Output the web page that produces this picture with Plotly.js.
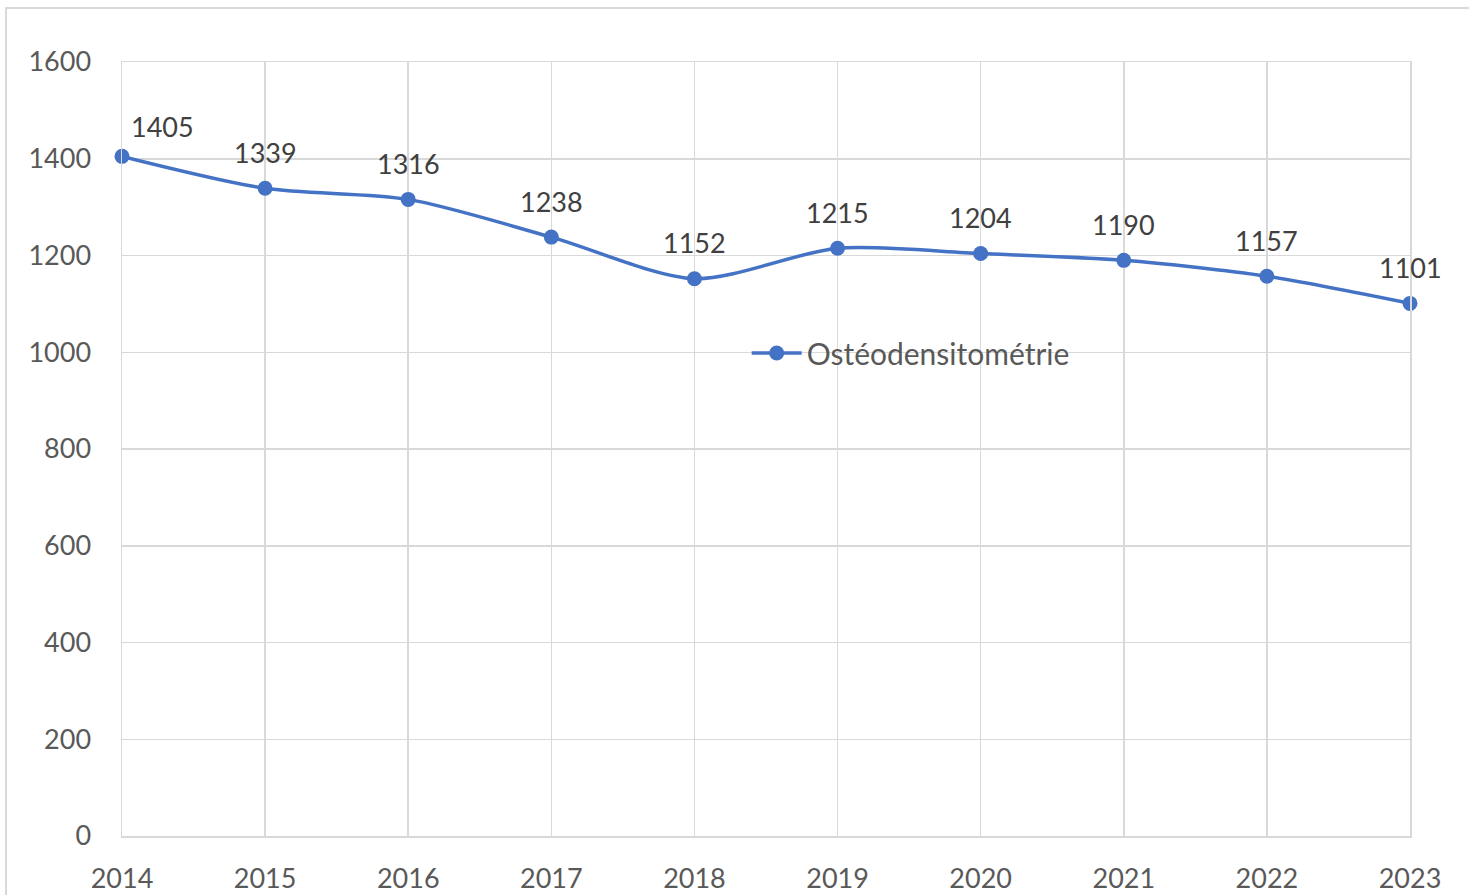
<!DOCTYPE html>
<html>
<head>
<meta charset="utf-8">
<script src="https://cdn.plot.ly/plotly-3.0.1.min.js"></script>
<style>
html,body{margin:0;padding:0;background:#fff;overflow:hidden;}
#frame{position:absolute;left:5px;top:7px;width:1500px;height:950px;border-top:2px solid #d9d9d9;border-left:2px solid #d9d9d9;}
#chart{position:absolute;left:0;top:0;width:1469px;height:895px;}
</style>
</head>
<body>
<div id="frame"></div>
<div id="chart"></div>
<script>
const years = [2014, 2015, 2016, 2017, 2018, 2019, 2020, 2021, 2022, 2023];
const values = [1405, 1339, 1316, 1238, 1152, 1215, 1204, 1190, 1157, 1101];
const seriesName = 'Ostéodensitométrie';
const yTicks = [0, 200, 400, 600, 800, 1000, 1200, 1400, 1600];

const FONT = 'Lato, "Open Sans", sans-serif';
const TXT = '#595959';
const BLUE = '#4472C4';

const trace = {
  x: years, y: values, name: seriesName, type: 'scatter', mode: 'lines+markers',
  line: {color: BLUE, width: 3.5, shape: 'spline', smoothing: 0.8},
  marker: {color: BLUE, size: 15},
  cliponaxis: false
};

const annotations = years.map((yr, i) => ({
  x: yr, y: values[i], xref: 'x', yref: 'y',
  text: String(values[i]), showarrow: false,
  yshift: i === 0 ? 30 : 36, xshift: i === 0 ? 40 : 0,
  font: {family: FONT, size: 27, color: '#404040'}
}));

const layout = {
  width: 1469, height: 895,
  margin: {l: 122, r: 59, t: 62, b: 59},
  paper_bgcolor: 'rgba(0,0,0,0)', plot_bgcolor: 'rgba(0,0,0,0)',
  showlegend: true,
  legend: {x: 0.485, y: 0.624, xanchor: 'left', yanchor: 'middle',
    bgcolor: 'rgba(0,0,0,0)', font: {family: FONT, size: 30, color: TXT}, itemwidth: 50},
  xaxis: {range: [2014, 2023], tickvals: years, ticktext: years.map(String),
    showgrid: true, gridcolor: '#d9d9d9', gridwidth: 1.5, zeroline: false,
    showline: true, linecolor: '#d9d9d9', linewidth: 1.5, mirror: true,
    ticks: '', ticklabelstandoff: 18, tickfont: {family: FONT, size: 27, color: TXT}},
  yaxis: {range: [0, 1600], tickvals: yTicks, ticktext: yTicks.map(String),
    showgrid: true, gridcolor: '#d9d9d9', gridwidth: 1.5, zeroline: false,
    showline: true, linecolor: '#d9d9d9', linewidth: 1.5, mirror: true,
    ticks: '', ticklabelstandoff: 24, tickfont: {family: FONT, size: 27, color: TXT}},
  annotations: annotations
};

Plotly.newPlot('chart', [trace], layout, {displayModeBar: false, staticPlot: true});
</script>
</body>
</html>
